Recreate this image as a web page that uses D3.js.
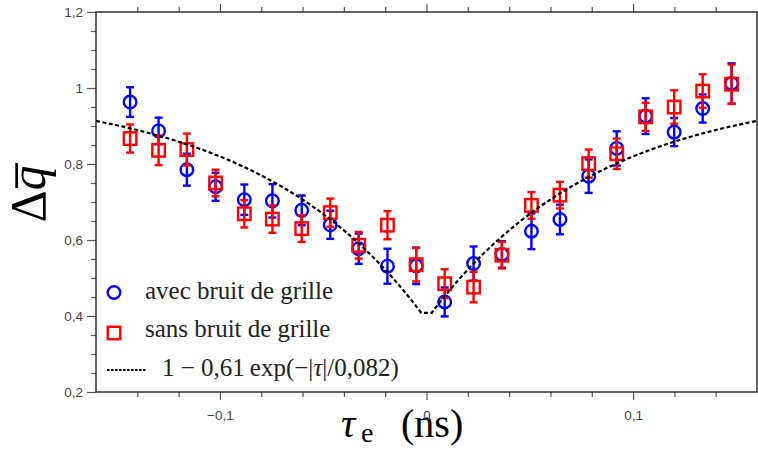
<!DOCTYPE html>
<html><head><meta charset="utf-8">
<script src="https://cdn.jsdelivr.net/npm/d3@7"></script>
</head><body style="margin:0">
<svg id="c" width="758" height="468"></svg>
<script>
// ---- data ----
const tau = [-0.1435, -0.1297, -0.1160, -0.1021, -0.0882, -0.0746, -0.0604, -0.0466, -0.0328, -0.0189, -0.0050,
             0.0088, 0.0228, 0.0365, 0.0508, 0.0646, 0.0785, 0.0921, 0.1061, 0.1199, 0.1337, 0.1477];
const qAvec = [0.963, 0.887, 0.785, 0.740, 0.706, 0.703, 0.678, 0.640, 0.577, 0.531, 0.532,
               0.437, 0.538, 0.562, 0.623, 0.654, 0.768, 0.841, 0.926, 0.884, 0.946, 1.012];
const errAvec = [0.039, 0.035, 0.042, 0.037, 0.040, 0.044, 0.039, 0.037, 0.040, 0.046, 0.048,
                 0.038, 0.045, 0.035, 0.047, 0.039, 0.044, 0.045, 0.047, 0.037, 0.037, 0.053];
const qSans = [0.867, 0.836, 0.838, 0.750, 0.669, 0.655, 0.630, 0.672, 0.586, 0.639, 0.535,
               0.485, 0.476, 0.560, 0.691, 0.718, 0.801, 0.827, 0.924, 0.950, 0.992, 1.010];
const errSans = [0.037, 0.039, 0.042, 0.035, 0.036, 0.036, 0.035, 0.037, 0.035, 0.037, 0.044,
                 0.038, 0.040, 0.035, 0.035, 0.035, 0.037, 0.040, 0.037, 0.044, 0.044, 0.052];
// fit parameters shown in the legend: 1 - 0,61 exp(-|tau|/0,082)
const fitAmp = 0.61;
const fitTau = 0.082;
const xTicksMajor = [-0.1, 0, 0.1];
const xTicksMinor = [-0.14, -0.12, -0.08, -0.06, -0.04, -0.02, 0.02, 0.04, 0.06, 0.08, 0.12, 0.14];
const yTicksMajor = [0.2, 0.4, 0.6, 0.8, 1.0, 1.2];
const yTicksMinor = [0.25, 0.3, 0.35, 0.45, 0.5, 0.55, 0.65, 0.7, 0.75, 0.85, 0.9, 0.95, 1.05, 1.1, 1.15];
const legendLabels = ["avec bruit de grille", "sans bruit de grille"];

// ---- drawing ----
const svg = d3.select("#c");
const m = {l: 96, r: 757, t: 12, b: 392};
const x = d3.scaleLinear().domain([-0.16, 0.16]).range([m.l, m.r]);
const y = d3.scaleLinear().domain([0.2, 1.2]).range([m.b, m.t]);
const loc = d3.formatLocale({decimal: ",", thousands: ".", grouping: [3], currency: ["", "€"], minus: "\u2212"});
const fmt = loc.format("~g");
const BLUE = "#0000ff", RED = "#ff0000";
const tickCol = "#555", labCol = "#444";
const SERIF = '"Liberation Serif"';

// axis titles (serif)
const yl = svg.append("text").attr("transform", "translate(45,194) rotate(-90)")
  .attr("text-anchor", "middle").attr("font-size", 50).attr("fill", "#000")
  .attr("font-family", SERIF);
yl.append("tspan").text("\u0394");
yl.append("tspan").attr("font-style", "italic").text("q\u0305");

const xl = svg.append("text").attr("x", 341).attr("y", 437).attr("font-size", 40).attr("fill", "#000")
  .attr("font-family", SERIF);
xl.append("tspan").attr("font-style", "italic").text("\u03C4");
xl.append("tspan").attr("font-size", 28).attr("x", 361).attr("dy", 5).text("e");
xl.append("tspan").attr("x", 401).attr("dy", -5).text("(ns)");

function styleAxis(g) {
  g.select(".domain").remove();
  g.selectAll(".tick line").attr("stroke", tickCol).attr("stroke-width", 1.2);
  g.selectAll(".tick text").attr("fill", labCol).attr("font-size", 13.5);
}
// bottom
svg.append("g").attr("transform", `translate(0,${m.b})`)
  .call(d3.axisBottom(x).tickValues(xTicksMajor).tickSize(8).tickPadding(10).tickFormat(fmt)).call(styleAxis);
svg.append("g").attr("transform", `translate(0,${m.b})`)
  .call(d3.axisBottom(x).tickValues(xTicksMinor).tickSize(5).tickFormat("")).call(styleAxis);
// top
svg.append("g").attr("transform", `translate(0,${m.t})`)
  .call(d3.axisTop(x).tickValues(xTicksMajor).tickSize(8).tickFormat("")).call(styleAxis);
svg.append("g").attr("transform", `translate(0,${m.t})`)
  .call(d3.axisTop(x).tickValues(xTicksMinor).tickSize(5).tickFormat("")).call(styleAxis);
// left
svg.append("g").attr("transform", `translate(${m.l},0)`)
  .call(d3.axisLeft(y).tickValues(yTicksMajor).tickSize(9).tickPadding(4).tickFormat(fmt)).call(styleAxis);
svg.append("g").attr("transform", `translate(${m.l},0)`)
  .call(d3.axisLeft(y).tickValues(yTicksMinor).tickSize(5).tickFormat("")).call(styleAxis);

// frame
svg.append("rect").attr("x", m.l).attr("y", m.t).attr("width", m.r - m.l).attr("height", m.b - m.t)
  .attr("fill", "none").attr("stroke", "#222").attr("stroke-width", 1.4);

const plot = svg.append("g");
const capW = 4, sw = 2.4;
function errorBars(vals, errs, col) {
  const g = plot.append("g").attr("stroke", col).attr("stroke-width", sw).attr("fill", "none");
  tau.forEach((t, i) => {
    const cx = x(t), y0 = y(vals[i] - errs[i]), y1 = y(vals[i] + errs[i]);
    g.append("line").attr("x1", cx).attr("x2", cx).attr("y1", y0).attr("y2", y1);
    g.append("line").attr("x1", cx - capW).attr("x2", cx + capW).attr("y1", y0).attr("y2", y0);
    g.append("line").attr("x1", cx - capW).attr("x2", cx + capW).attr("y1", y1).attr("y2", y1);
  });
}
errorBars(qAvec, errAvec, BLUE);
plot.append("g").selectAll("circle").data(tau).join("circle")
  .attr("cx", d => x(d)).attr("cy", (d, i) => y(qAvec[i])).attr("r", 6.3)
  .attr("fill", "none").attr("stroke", BLUE).attr("stroke-width", sw);
errorBars(qSans, errSans, RED);
const sq = 12.5;
plot.append("g").selectAll("rect").data(tau).join("rect")
  .attr("x", d => x(d) - sq / 2).attr("y", (d, i) => y(qSans[i]) - sq / 2).attr("width", sq).attr("height", sq)
  .attr("fill", "none").attr("stroke", RED).attr("stroke-width", sw);

// fit curve
const fitT = d3.range(-0.1575, 0.16, 0.005);
fitT.unshift(-0.16); fitT.push(0.16);
const fitLine = d3.line().x(t => x(t)).y(t => y(1 - fitAmp * Math.exp(-Math.abs(t) / fitTau)));
plot.append("path").attr("d", fitLine(fitT)).attr("fill", "none").attr("stroke", "#000")
  .attr("stroke-width", 2.2).attr("stroke-dasharray", "4,2.5");

// legend
const lg = svg.append("g");
function ltext(xx, yy) {
  return lg.append("text").attr("x", xx).attr("y", yy).attr("font-size", 25).attr("fill", "#222")
    .attr("font-family", SERIF);
}
lg.append("circle").attr("cx", 114).attr("cy", 292.5).attr("r", 6.3).attr("fill", "none").attr("stroke", BLUE).attr("stroke-width", sw);
ltext(145, 298.5).text(legendLabels[0]);
lg.append("rect").attr("x", 114 - sq / 2).attr("y", 333 - sq / 2).attr("width", sq).attr("height", sq).attr("fill", "none").attr("stroke", RED).attr("stroke-width", sw);
ltext(145, 337).text(legendLabels[1]);
lg.append("line").attr("x1", 107).attr("x2", 147).attr("y1", 370).attr("y2", 370).attr("stroke", "#000").attr("stroke-width", 2).attr("stroke-dasharray", "2.5,1.5");
const ft = ltext(162, 376);
ft.append("tspan").text("1 \u2212 " + loc.format(".2f")(fitAmp) + "\u2009exp(\u2212|");
ft.append("tspan").attr("font-style", "italic").text("\u03C4");
ft.append("tspan").text("|/" + loc.format(".3f")(fitTau) + ")");
</script>
</body></html>
